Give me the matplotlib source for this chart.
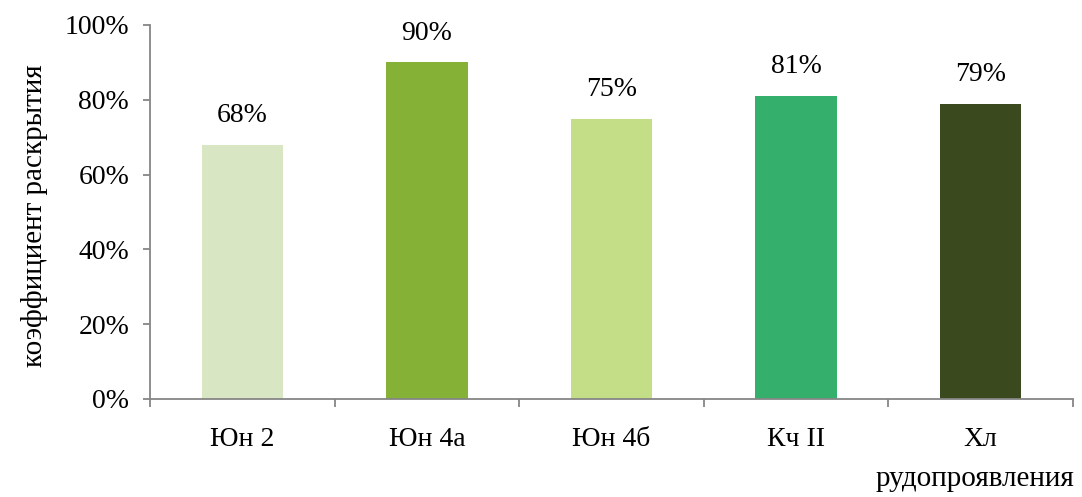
import matplotlib
matplotlib.use("Agg")
import matplotlib.pyplot as plt
import numpy as np
from matplotlib.ticker import FixedLocator, PercentFormatter

plt.rcParams["font.family"] = ["Liberation Serif", "DejaVu Serif"]

deposits = ["Юн 2", "Юн 4а", "Юн 4б", "Кч II", "Хл"]
coverage = [68, 90, 75, 81, 79]
colors = ["#D9E6C3", "#85B236", "#C3DE87", "#34B06C", "#3A4A1E"]

AXIS_C = "#868686"
FS = 20

fig = plt.figure(figsize=(10.82, 4.97), dpi=100)
ax = fig.add_axes([150 / 1082, 1 - 399 / 497, (1073 - 150) / 1082, (399 - 25) / 497])

x = np.arange(len(deposits))
bars = ax.bar(x, coverage, width=0.44, color=colors)
for b, v in zip(bars, coverage):
    ax.text(b.get_x() + b.get_width() / 2, v + 4.5, f"{v}%",
            ha="center", va="bottom", fontsize=FS)

ax.set_xlim(-0.5, len(deposits) - 0.5)
ax.set_ylim(0, 100)
ax.yaxis.set_major_locator(FixedLocator(np.arange(0, 101, 20)))
ax.yaxis.set_major_formatter(PercentFormatter(decimals=0))

# category labels centred, tick marks at category boundaries
ax.set_xticks(x)
ax.set_xticklabels(deposits, fontsize=FS)
ax.tick_params(axis="x", which="major", length=0, pad=20.5)
ax.set_xticks(np.arange(-0.5, len(deposits)), minor=True)
ax.tick_params(axis="x", which="minor", length=6, width=1.3, color=AXIS_C, direction="out")
ax.tick_params(axis="y", length=5, width=1.3, color=AXIS_C, labelsize=FS, pad=10)

for s in ("top", "right"):
    ax.spines[s].set_visible(False)
for s in ("left", "bottom"):
    ax.spines[s].set_color(AXIS_C)
    ax.spines[s].set_linewidth(1.3)

fig.text(35 / 1082, 1 - 216 / 497, "коэффициент раскрытия", rotation=90,
         ha="center", va="center", fontsize=21)
fig.text(975 / 1082, 1 - 479 / 497, "рудопроявления",
         ha="center", va="center", fontsize=21)

fig.savefig("out.png", dpi=100)
